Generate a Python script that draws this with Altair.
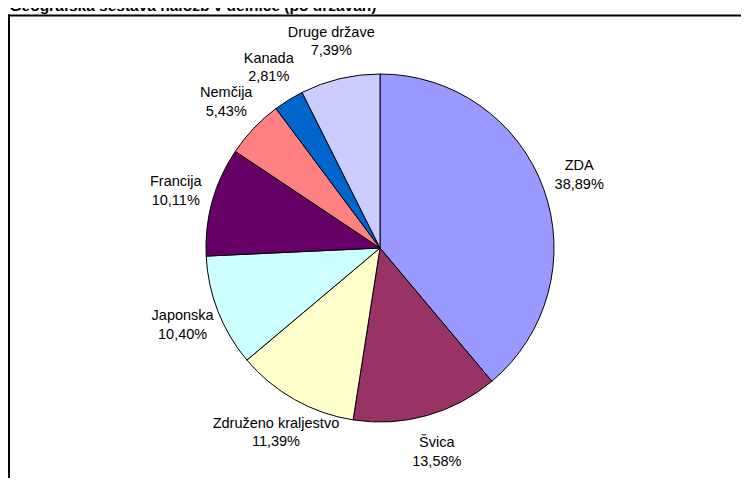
import altair as alt
import pandas as pd

countries = ["ZDA", "Švica", "Združeno kraljestvo", "Japonska", "Francija",
             "Nemčija", "Kanada", "Druge države"]
shares = [38.89, 13.58, 11.39, 10.40, 10.11, 5.43, 2.81, 7.39]
colors = ["#9999FF", "#993366", "#FFFFCC", "#CCFFFF", "#660066",
          "#FF8080", "#0066CC", "#CCCCFF"]
title_text = "Geografska sestava naložb v delnice (po državah)"

df = pd.DataFrame({
    "country": countries,
    "share": shares,
    "order": list(range(len(countries))),
    "label": [f"{c}\n{v:.2f}".replace(".", ",") + "%" for c, v in zip(countries, shares)],
})

FONT = "Liberation Sans"
CX, CY = 372, 240

base = alt.Chart(df).encode(
    theta=alt.Theta("share:Q", stack=True),
    order=alt.Order("order:Q", sort="ascending"),
)

pie = base.mark_arc(outerRadius=174, stroke="black", strokeWidth=1).encode(
    x=alt.value(CX), y=alt.value(CY),
    color=alt.Color("country:N", scale=alt.Scale(domain=countries, range=colors), legend=None),
)

labels = base.mark_text(font=FONT, fontSize=14.5, lineBreak="\n", lineHeight=18.5,
                        align="center", baseline="middle", dy=-9, color="black").encode(
    x=alt.value(CX), y=alt.value(CY),
    radius=alt.value(212),
    text="label:N",
)

one = pd.DataFrame({"a": [0]})
frame_top = alt.Chart(one).mark_rule(color="black", strokeWidth=2).encode(
    x=alt.value(0), x2=alt.value(745), y=alt.value(7.5))
frame_left = alt.Chart(one).mark_rule(color="black", strokeWidth=2).encode(
    x=alt.value(1), y=alt.value(6.5), y2=alt.value(480))
title = alt.Chart(one).mark_text(font=FONT, fontSize=15.5, fontWeight="bold",
                                 align="left", baseline="alphabetic", color="black").encode(
    x=alt.value(1.5), y=alt.value(3), text=alt.value(title_text))

chart = alt.layer(frame_top, frame_left, pie, labels, title).properties(
    width=733, height=470,
    autosize=alt.AutoSizeParams(type="none"),
    padding=0,
).configure_view(stroke=None)

chart.save("out.html", embed_options={"renderer": "svg", "actions": False})
